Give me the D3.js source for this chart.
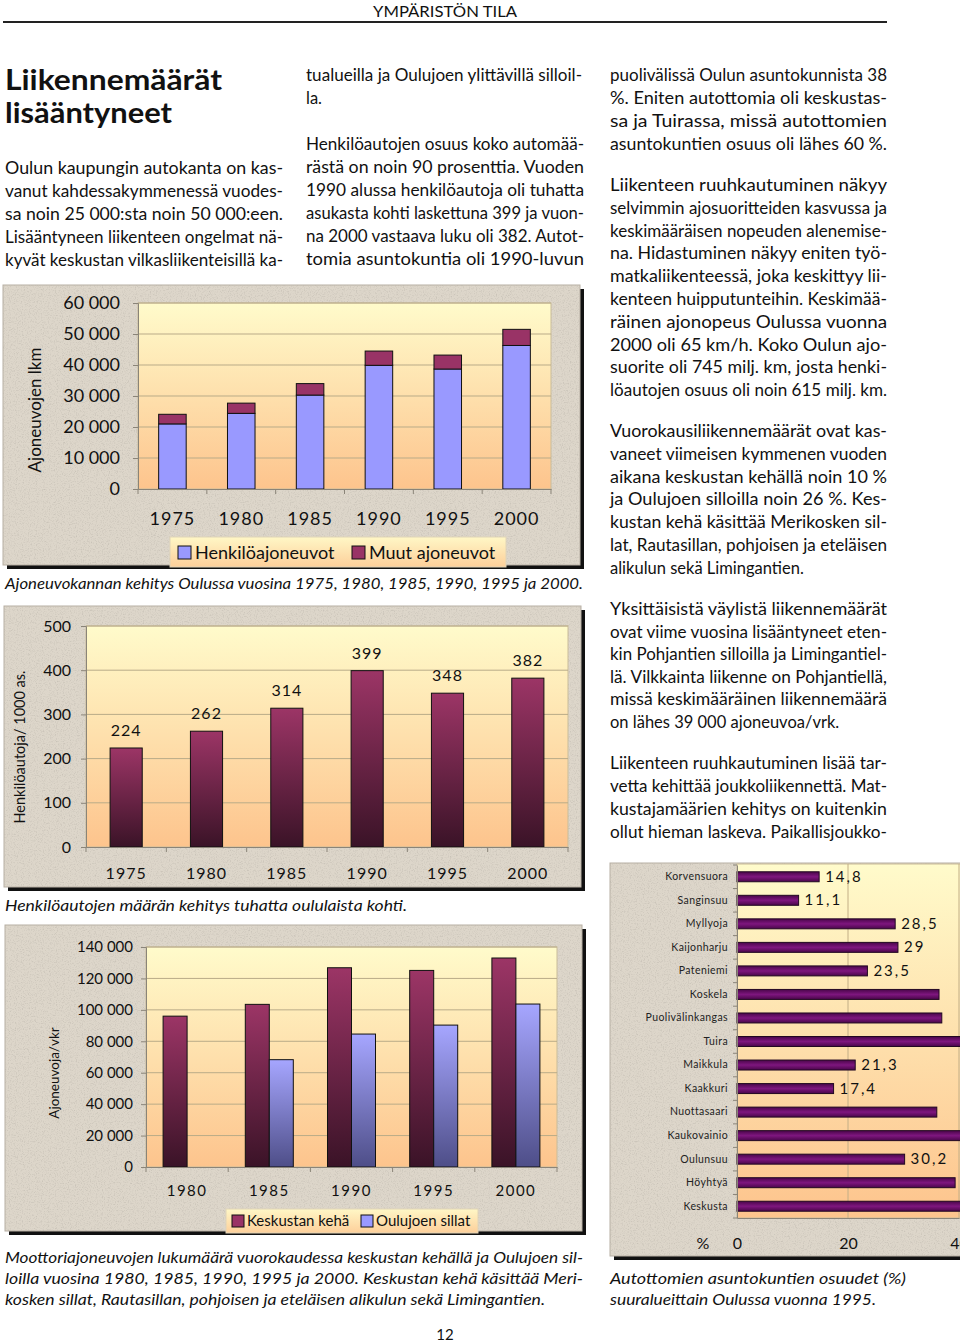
<!DOCTYPE html>
<html>
<head>
<meta charset="utf-8">
<script src="https://cdn.jsdelivr.net/npm/d3@7"></script>
<style>
  body { margin: 0; background: #fff; }
  svg { display: block; font-family: Lato, "Open Sans", sans-serif; }
</style>
</head>
<body>
<script>
// chart 1: vehicle stock
var years1 = ["1975", "1980", "1985", "1990", "1995", "2000"];
var henkilo = [21000, 24400, 30300, 39900, 38700, 46300];
var muut = [3100, 3300, 3700, 4600, 4500, 5200];
var yTicks1 = [0, 10000, 20000, 30000, 40000, 50000, 60000];

// chart 2: cars per 1000 inhabitants
var perThousand = [224, 262, 314, 399, 348, 382];
var yTicks2 = [0, 100, 200, 300, 400, 500];

// chart 3: vehicles per day
var years3 = ["1980", "1985", "1990", "1995", "2000"];
var keha = [96000, 103500, 126800, 125100, 133000];
var sillat = [null, 68300, 84600, 90300, 103700];
var yTicks3 = [0, 20000, 40000, 60000, 80000, 100000, 120000, 140000];

// chart 4: share of households without a car
var areas = ["Korvensuora", "Sanginsuu", "Myllyoja", "Kaijonharju", "Pateniemi", "Koskela",
  "Puolivälinkangas", "Tuira", "Maikkula", "Kaakkuri", "Nuottasaari", "Kaukovainio",
  "Oulunsuu", "Höyhtyä", "Keskusta"];
var autoton = [14.8, 11.1, 28.5, 29, 23.5, 36.4, 36.9, 57, 21.3, 17.4, 36.0, 42, 30.2, 39.3, 58];
var showLabel = [1, 1, 1, 1, 1, 0, 0, 0, 1, 1, 0, 0, 1, 0, 0];
var xTicks4 = [0, 20, 40];

var fi = d3.formatLocale({ decimal: ",", thousands: " ", grouping: [3], currency: ["", ""] });
var fmt = fi.format(",");

var svg = d3.select("body").append("svg")
    .attr("width", 960)
    .attr("height", 1343);
var defs = svg.append("defs");

function vGrad(id, stops) {
  var g = defs.append("linearGradient").attr("id", id)
      .attr("x1", 0).attr("y1", 0).attr("x2", 0).attr("y2", 1);
  stops.forEach(function(s) {
    g.append("stop").attr("offset", s[0]).attr("stop-color", s[1]);
  });
}
vGrad("plotBg", [[0, "#fffbcb"], [1, "#fdc48d"]]);
vGrad("legBg", [[0, "#fff7c6"], [1, "#fdcf9a"]]);
vGrad("maroonBar", [[0, "#9c3566"], [1, "#3a1327"]]);
vGrad("blueBar", [[0, "#a6a6ff"], [1, "#4e4e88"]]);
vGrad("purpleBar", [[0, "#4a064a"], [0.5, "#7e167e"], [1, "#4a064a"]]);

var noise = defs.append("filter").attr("id", "noise")
    .attr("x", 0).attr("y", 0).attr("width", "100%").attr("height", "100%");
noise.append("feTurbulence").attr("type", "fractalNoise")
    .attr("baseFrequency", 0.85).attr("numOctaves", 2).attr("seed", 4);
noise.append("feColorMatrix").attr("type", "matrix")
    .attr("values", "0 0 0 0 0.45  0 0 0 0 0.42  0 0 0 0 0.37  2.4 0 0 0 -1.15");

// ---------- page text ----------
function textLine(x, y, str, size, width, opts) {
  opts = opts || {};
  var t = svg.append("text")
      .attr("x", x).attr("y", y)
      .style("font-size", size + "px")
      .style("fill", "#111")
      .text(str);
  if (width) t.attr("textLength", width).attr("lengthAdjust", "spacingAndGlyphs");
  if (opts.bold) t.style("font-weight", "bold");
  if (opts.italic) t.style("font-style", "italic");
  if (opts.anchor) t.attr("text-anchor", opts.anchor);
  return t;
}

textLine(373, 17, "YMPÄRISTÖN TILA", 15, 144);
svg.append("line").attr("x1", 3).attr("x2", 887).attr("y1", 22).attr("y2", 22)
    .style("stroke", "#222").style("stroke-width", 2);

textLine(5, 90, "Liikennemäärät", 29, 217, { bold: true });
textLine(5, 123, "lisääntyneet", 29, 167, { bold: true });

var paragraphs = [
  { x: 5, w: 278, y: 174, lh: 23, last: true, lines: [
    "Oulun kaupungin autokanta on kas-",
    "vanut kahdessakymmenessä vuodes-",
    "sa noin 25 000:sta noin 50 000:een.",
    "Lisääntyneen liikenteen ongelmat nä-",
    "kyvät keskustan vilkasliikenteisillä ka-"] },
  { x: 306, w: 276, y: 81, lh: 23, last: false, lines: [
    "tualueilla ja Oulujoen ylittävillä silloil-",
    "la."] },
  { x: 306, w: 278, y: 150, lh: 23, last: true, lines: [
    "Henkilöautojen osuus koko automää-",
    "rästä on noin 90 prosenttia. Vuoden",
    "1990 alussa henkilöautoja oli tuhatta",
    "asukasta kohti laskettuna 399 ja vuon-",
    "na 2000 vastaava luku oli 382. Autot-",
    "tomia asuntokuntia oli 1990-luvun"] },
  { x: 610, w: 277, y: 81, lh: 23, last: true, lines: [
    "puolivälissä Oulun asuntokunnista 38",
    "%. Eniten autottomia oli keskustas-",
    "sa ja Tuirassa, missä autottomien",
    "asuntokuntien osuus  oli lähes 60 %."] },
  { x: 610, w: 277, y: 191, lh: 22.8, last: true, lines: [
    "Liikenteen ruuhkautuminen näkyy",
    "selvimmin ajosuoritteiden kasvussa ja",
    "keskimääräisen nopeuden alenemise-",
    "na. Hidastuminen näkyy eniten työ-",
    "matkaliikenteessä, joka keskittyy lii-",
    "kenteen huipputunteihin. Keskimää-",
    "räinen ajonopeus Oulussa vuonna",
    "2000 oli 65 km/h. Koko Oulun ajo-",
    "suorite oli 745 milj. km, josta henki-",
    "löautojen osuus oli  noin 615 milj. km."] },
  { x: 610, w: 277, y: 437, lh: 22.83, last: false, lines: [
    "Vuorokausiliikennemäärät ovat kas-",
    "vaneet viimeisen kymmenen vuoden",
    "aikana keskustan kehällä noin 10 %",
    "ja Oulujoen silloilla noin 26 %. Kes-",
    "kustan kehä käsittää Merikosken sil-",
    "lat, Rautasillan, pohjoisen ja eteläisen",
    "alikulun sekä Limingantien."] },
  { x: 610, w: 277, y: 615, lh: 22.6, last: false, lines: [
    "Yksittäisistä väylistä liikennemäärät",
    "ovat viime vuosina lisääntyneet eten-",
    "kin Pohjantien silloilla ja Limingantiel-",
    "lä. Vilkkainta liikenne on Pohjantiellä,",
    "missä keskimääräinen liikennemäärä",
    "on lähes 39 000 ajoneuvoa/vrk."] },
  { x: 610, w: 277, y: 769, lh: 23, last: true, lines: [
    "Liikenteen ruuhkautuminen lisää tar-",
    "vetta kehittää joukkoliikennettä. Mat-",
    "kustajamäärien kehitys on kuitenkin",
    "ollut hieman laskeva. Paikallisjoukko-"] }
];

paragraphs.forEach(function(p) {
  p.lines.forEach(function(l, i) {
    var justify = (i < p.lines.length - 1) || p.last;
    textLine(p.x, p.y + i * p.lh, l, 16.5, justify ? p.w : null);
  });
});

// ---------- chart helpers ----------
function frame(x, y, w, h) {
  var g = svg.append("g");
  g.append("rect").attr("x", x + 4).attr("y", y + 4).attr("width", w).attr("height", h)
      .style("fill", "#111");
  g.append("rect").attr("x", x).attr("y", y).attr("width", w).attr("height", h)
      .style("fill", "#ddd6ca").style("stroke", "#b8b0a4").style("stroke-width", 1);
  g.append("rect").attr("x", x).attr("y", y).attr("width", w).attr("height", h)
      .attr("filter", "url(#noise)").style("opacity", 0.5);
  return g;
}

function plotBg(g, x, y, w, h) {
  g.append("rect").attr("x", x).attr("y", y).attr("width", w).attr("height", h)
      .style("fill", "url(#plotBg)").style("stroke", "#c9bc9a").style("stroke-width", 1);
}

function styleAxis(ax, size) {
  ax.select(".domain").style("stroke", "#8a8478");
  ax.selectAll(".tick line").style("stroke", "#8a8478");
  ax.selectAll(".tick text").style("font-size", size + "px").style("fill", "#111")
      .style("font-family", "Lato, 'Open Sans', sans-serif");
}

function hGrid(g, scale, ticks, x0, x1) {
  g.selectAll(null).data(ticks.filter(function(d) { return d > 0; })).enter()
    .append("line")
      .attr("x1", x0).attr("x2", x1)
      .attr("y1", function(d) { return scale(d); })
      .attr("y2", function(d) { return scale(d); })
      .style("stroke", "#b9ab88").style("stroke-width", 1);
}

function bandTicks(g, scale, y) {
  var step = scale.step(), off = step * scale.paddingOuter();
  var xs = scale.domain().map(function(d) { return scale(d) - off; });
  xs.push(scale.range()[1]);
  g.selectAll(null).data(xs).enter().append("line")
      .attr("x1", function(d) { return d; }).attr("x2", function(d) { return d; })
      .attr("y1", y).attr("y2", y + 5)
      .style("stroke", "#8a8478");
}

function yTitle(g, x, y, str, size) {
  g.append("text")
      .attr("transform", "translate(" + x + "," + y + ") rotate(-90)")
      .attr("text-anchor", "middle")
      .style("font-size", size + "px").style("fill", "#111")
      .text(str);
}

// ---------- chart 1 ----------
var g1 = frame(3, 285, 577, 280);
var x1 = d3.scaleBand().domain(years1).range([138, 551]).paddingInner(0.6).paddingOuter(0.3);
var y1 = d3.scaleLinear().domain([0, 60000]).range([489, 303]);
plotBg(g1, 138, 303, 413, 186);
hGrid(g1, y1, yTicks1, 138, 551);

var rows1 = years1.map(function(y, i) { return { year: y, henkilo: henkilo[i], muut: muut[i] }; });
var stack1 = d3.stack().keys(["henkilo", "muut"])(rows1);
var colors1 = { henkilo: "#9999ff", muut: "#993366" };

g1.selectAll(".layer").data(stack1).enter().append("g")
    .attr("class", "layer")
    .style("fill", function(d) { return colors1[d.key]; })
  .selectAll("rect").data(function(d) { return d; }).enter().append("rect")
    .attr("x", function(d) { return x1(d.data.year); })
    .attr("y", function(d) { return y1(d[1]); })
    .attr("width", x1.bandwidth())
    .attr("height", function(d) { return y1(d[0]) - y1(d[1]); })
    .style("stroke", "#111").style("stroke-width", 1);

var ay1 = g1.append("g").attr("transform", "translate(138,0)")
    .call(d3.axisLeft(y1).tickValues(yTicks1).tickFormat(fmt).tickSize(5).tickPadding(13));
styleAxis(ay1, 18);
var ax1 = g1.append("g").attr("transform", "translate(0,489)")
    .call(d3.axisBottom(x1).tickSize(0).tickPadding(23));
styleAxis(ax1, 18);
ax1.selectAll(".tick text").style("letter-spacing", "1px");
bandTicks(g1, x1, 489);
yTitle(g1, 41, 410, "Ajoneuvojen lkm", 17);

var leg1 = g1.append("g");
leg1.append("rect").attr("x", 170).attr("y", 537).attr("width", 336).attr("height", 30)
    .style("fill", "url(#legBg)").style("stroke", "#e0d4b8");
var legItems1 = [["Henkilöajoneuvot", "#9999ff", 178], ["Muut ajoneuvot", "#993366", 352]];
legItems1.forEach(function(d) {
  leg1.append("rect").attr("x", d[2]).attr("y", 546).attr("width", 13).attr("height", 13)
      .style("fill", d[1]).style("stroke", "#111");
  leg1.append("text").attr("x", d[2] + 17).attr("y", 559)
      .style("font-size", "18px").style("fill", "#111").text(d[0]);
});
textLine(5, 589, "Ajoneuvokannan kehitys Oulussa vuosina 1975, 1980, 1985, 1990, 1995 ja 2000.", 16, 578, { italic: true });

// ---------- chart 2 ----------
var g2 = frame(4, 606, 577, 281);
var x2 = d3.scaleBand().domain(years1).range([86, 568]).paddingInner(0.6).paddingOuter(0.3);
var y2 = d3.scaleLinear().domain([0, 500]).range([847, 626]);
plotBg(g2, 86, 626, 482, 221);
hGrid(g2, y2, yTicks2, 86, 568);

var rows2 = years1.map(function(y, i) { return { year: y, v: perThousand[i] }; });
g2.selectAll(".bar").data(rows2).enter().append("rect")
    .attr("class", "bar")
    .attr("x", function(d) { return x2(d.year); })
    .attr("y", function(d) { return y2(d.v); })
    .attr("width", x2.bandwidth())
    .attr("height", function(d) { return y2(0) - y2(d.v); })
    .style("fill", "url(#maroonBar)").style("stroke", "#111");
g2.selectAll(".val").data(rows2).enter().append("text")
    .attr("class", "val")
    .attr("x", function(d) { return x2(d.year) + x2.bandwidth() / 2; })
    .attr("y", function(d) { return y2(d.v) - 12; })
    .attr("text-anchor", "middle")
    .style("font-size", "16px").style("letter-spacing", "1px").style("fill", "#111")
    .text(function(d) { return d.v; });

var ay2 = g2.append("g").attr("transform", "translate(86,0)")
    .call(d3.axisLeft(y2).tickValues(yTicks2).tickSize(5).tickPadding(10));
styleAxis(ay2, 16);
var ax2 = g2.append("g").attr("transform", "translate(0,847)")
    .call(d3.axisBottom(x2).tickSize(0).tickPadding(21));
styleAxis(ax2, 16);
ax2.selectAll(".tick text").style("letter-spacing", "1px");
bandTicks(g2, x2, 847);
yTitle(g2, 25, 747, "Henkilöautoja/ 1000 as.", 14.5);
textLine(5, 911, "Henkilöautojen määrän kehitys tuhatta oululaista kohti.", 16, 402, { italic: true });

// ---------- chart 3 ----------
var g3 = frame(5, 925, 577, 306);
var x3 = d3.scaleBand().domain(years3).range([146, 557]).paddingInner(0.416).paddingOuter(0.208);
var xi3 = d3.scaleBand().domain(["keha", "sillat"]).range([0, x3.bandwidth()]);
var y3 = d3.scaleLinear().domain([0, 140000]).range([1167, 947]);
plotBg(g3, 146, 947, 411, 220);
hGrid(g3, y3, yTicks3, 146, 557);

var rows3 = years3.map(function(y, i) { return { year: y, keha: keha[i], sillat: sillat[i] }; });
var fills3 = { keha: "url(#maroonBar)", sillat: "url(#blueBar)" };
g3.selectAll(".grp").data(rows3).enter().append("g")
    .attr("class", "grp")
    .attr("transform", function(d) { return "translate(" + x3(d.year) + ",0)"; })
  .selectAll("rect")
    .data(function(d) {
      return ["keha", "sillat"].filter(function(k) { return d[k] != null; })
        .map(function(k) { return { key: k, v: d[k] }; });
    })
    .enter().append("rect")
    .attr("x", function(d) { return xi3(d.key); })
    .attr("y", function(d) { return y3(d.v); })
    .attr("width", xi3.bandwidth())
    .attr("height", function(d) { return y3(0) - y3(d.v); })
    .style("fill", function(d) { return fills3[d.key]; })
    .style("stroke", "#111");

var ay3 = g3.append("g").attr("transform", "translate(146,0)")
    .call(d3.axisLeft(y3).tickValues(yTicks3).tickFormat(fmt).tickSize(5).tickPadding(8));
styleAxis(ay3, 15);
var ax3 = g3.append("g").attr("transform", "translate(0,1167)")
    .call(d3.axisBottom(x3).tickSize(0).tickPadding(18));
styleAxis(ax3, 15);
ax3.selectAll(".tick text").style("letter-spacing", "1.5px");
(function() {
  var step = x3.step();
  var xs = d3.range(years3.length + 1).map(function(i) { return 146 + i * step; });
  g3.selectAll(null).data(xs).enter().append("line")
      .attr("x1", function(d) { return d; }).attr("x2", function(d) { return d; })
      .attr("y1", 1167).attr("y2", 1172).style("stroke", "#8a8478");
})();
yTitle(g3, 59, 1073, "Ajoneuvoja/vkr", 13.5);

var leg3 = g3.append("g");
leg3.append("rect").attr("x", 226).attr("y", 1209).attr("width", 252).attr("height", 24)
    .style("fill", "url(#legBg)").style("stroke", "#e0d4b8");
var legItems3 = [["Keskustan kehä", "#993366", 232], ["Oulujoen sillat", "#9999ff", 361]];
legItems3.forEach(function(d) {
  leg3.append("rect").attr("x", d[2]).attr("y", 1215).attr("width", 12).attr("height", 12)
      .style("fill", d[1]).style("stroke", "#111");
  leg3.append("text").attr("x", d[2] + 15).attr("y", 1226)
      .style("font-size", "15px").style("fill", "#111").text(d[0]);
});

textLine(5, 1263, "Moottoriajoneuvojen lukumäärä vuorokaudessa keskustan kehällä ja Oulujoen sil-", 16, 578, { italic: true });
textLine(5, 1284, "loilla vuosina 1980, 1985, 1990, 1995 ja 2000. Keskustan kehä käsittää Meri-", 16, 578, { italic: true });
textLine(5, 1305, "kosken sillat, Rautasillan, pohjoisen ja eteläisen alikulun sekä Limingantien.", 16, 540, { italic: true });

// ---------- chart 4 ----------
var g4 = frame(610, 863, 360, 393);
var x4 = d3.scaleLinear().domain([0, 40]).range([737, 959]);
var y4 = d3.scaleBand().domain(areas).range([865, 1218]).paddingInner(0.576).paddingOuter(0.288);
plotBg(g4, 737, 864, 240, 354);
g4.selectAll(null).data(xTicks4.filter(function(d) { return d > 0; })).enter().append("line")
    .attr("x1", function(d) { return x4(d); }).attr("x2", function(d) { return x4(d); })
    .attr("y1", 864).attr("y2", 1218)
    .style("stroke", "#c2ae86");

var rows4 = areas.map(function(a, i) { return { area: a, v: autoton[i], show: showLabel[i] }; });
g4.selectAll(".hbar").data(rows4).enter().append("rect")
    .attr("class", "hbar")
    .attr("x", x4(0))
    .attr("y", function(d) { return y4(d.area); })
    .attr("width", function(d) { return x4(d.v) - x4(0); })
    .attr("height", y4.bandwidth())
    .style("fill", "url(#purpleBar)").style("stroke", "#220822").style("stroke-width", 1);
g4.selectAll(".hval").data(rows4.filter(function(d) { return d.show; })).enter().append("text")
    .attr("class", "hval")
    .attr("x", function(d) { return x4(d.v) + 6; })
    .attr("y", function(d) { return y4(d.area) + y4.bandwidth() / 2 + 5; })
    .style("font-size", "15px").style("letter-spacing", "2px").style("fill", "#111")
    .text(function(d) { return String(d.v).replace(".", ","); });

var ay4 = g4.append("g").attr("transform", "translate(737,0)")
    .call(d3.axisLeft(y4).tickSize(0).tickPadding(9));
styleAxis(ay4, 10.5);
ay4.selectAll(".tick text").style("letter-spacing", "0.4px").style("fill", "#222");
(function() {
  var off = y4.step() * y4.paddingOuter();
  var ys = areas.map(function(a) { return y4(a) - off; });
  ys.push(1218);
  g4.selectAll(null).data(ys).enter().append("line")
      .attr("x1", 733).attr("x2", 737)
      .attr("y1", function(d) { return d; }).attr("y2", function(d) { return d; })
      .style("stroke", "#8a8478");
})();
var ax4 = g4.append("g").attr("transform", "translate(0,1218)")
    .call(d3.axisBottom(x4).tickValues(xTicks4).tickSize(0).tickPadding(20));
styleAxis(ax4, 16);
ax4.select(".domain").style("stroke", "#8a8478");
g4.append("text").attr("x", 703).attr("y", 1249).attr("text-anchor", "middle")
    .style("font-size", "16px").style("fill", "#111").text("%");

textLine(610, 1284, "Autottomien asuntokuntien osuudet (%)", 16, 296, { italic: true });
textLine(610, 1305, "suuralueittain Oulussa vuonna 1995.", 16, 266, { italic: true });

textLine(445, 1340, "12", 15, null, { anchor: "middle" });
</script>
</body>
</html>
